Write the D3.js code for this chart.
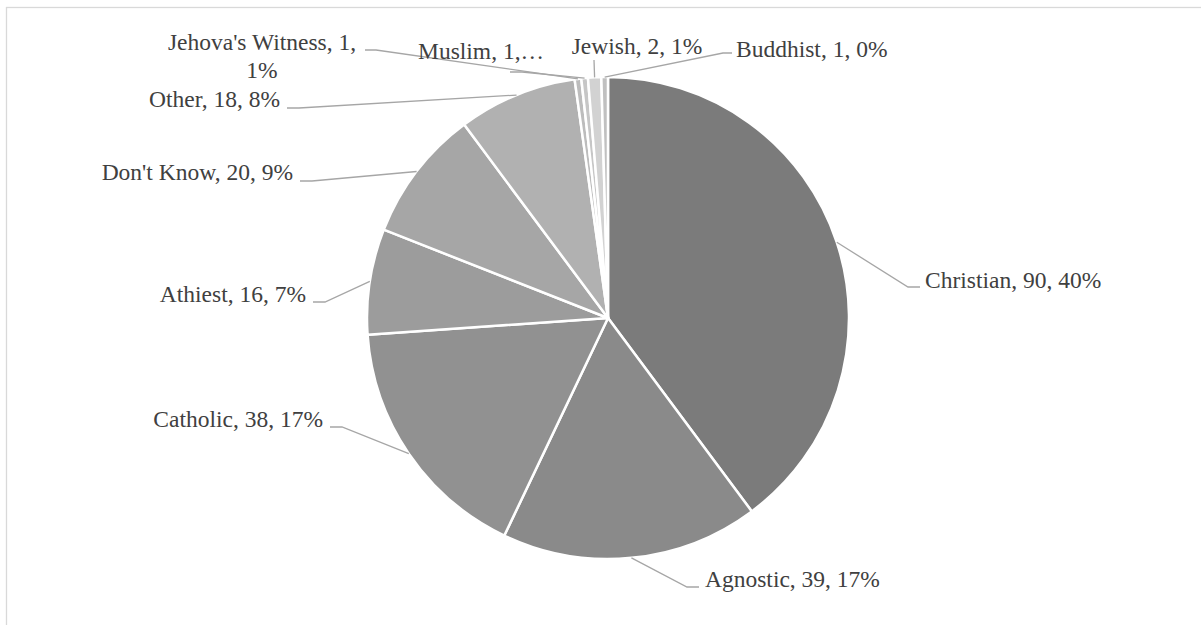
<!DOCTYPE html>
<html>
<head>
<meta charset="utf-8">
<script src="https://cdn.jsdelivr.net/npm/d3@7/dist/d3.min.js"></script>
<style>
  html, body { margin: 0; padding: 0; background: #ffffff; }
  svg { display: block; }
  text.lbl { font-family: "Liberation Serif", "Times New Roman", "DejaVu Serif", serif; }
</style>
</head>
<body>
<svg id="chart" width="1201" height="625"></svg>
<script>
// ---- Data ----
const categories = ["Christian", "Agnostic", "Catholic", "Athiest", "Don't Know", "Other",
                    "Jehova's Witness", "Muslim", "Jewish", "Buddhist"];
const values = [90, 39, 38, 16, 20, 18, 1, 1, 2, 1];
const labelTexts = [
  ["Christian, 90, 40%"],
  ["Agnostic, 39, 17%"],
  ["Catholic, 38, 17%"],
  ["Athiest, 16, 7%"],
  ["Don't Know, 20, 9%"],
  ["Other, 18, 8%"],
  ["Jehova's Witness, 1,", "1%"],
  ["Muslim, 1,\u2026"],
  ["Jewish, 2, 1%"],
  ["Buddhist, 1, 0%"]
];

// ---- Styles / layout ----
const sliceColors = ["#7b7b7b", "#8a8a8a", "#919191", "#9c9c9c", "#a6a6a6", "#b1b1b1",
                     "#bcbcbc", "#c6c6c6", "#d2d2d2", "#c0c0c0"];
const cx = 608, cy = 318, radius = 241;
// label anchor point (x, baseline y), text-anchor, and leader path points (from text side to pie)
const labelLayout = [
  {x: 925, y: 288, anchor: "start",  leader: [[920, 287], [908, 287]]},
  {x: 705, y: 587, anchor: "start",  leader: [[699, 587], [687, 587]]},
  {x: 323, y: 427, anchor: "end",    leader: [[330, 427], [342, 427]]},
  {x: 306, y: 302, anchor: "end",    leader: [[313, 302], [325, 302]]},
  {x: 293, y: 180, anchor: "end",    leader: [[300, 181], [312, 181]]},
  {x: 280, y: 107, anchor: "end",    leader: [[287, 108], [299, 108]]},
  {x: 262, y: 50,  anchor: "middle", leader: [[365, 50], [376, 50]]},
  {x: 418, y: 59,  anchor: "start",  leader: [[510, 72], [522, 72]]},
  {x: 637, y: 54,  anchor: "middle", leader: [[594, 60]]},
  {x: 736, y: 57,  anchor: "start",  leader: [[732, 53], [723, 53]]}
];

const svg = d3.select("#chart");

// chart border
svg.append("rect")
  .attr("x", 6.5).attr("y", 7.5)
  .attr("width", 1300).attr("height", 700)
  .attr("fill", "none")
  .attr("stroke", "#d9d9d9")
  .attr("stroke-width", 1.3);

const pie = d3.pie().sort(null).value(d => d)
  .startAngle(0).endAngle(2 * Math.PI);
const arcs = pie(values);

const arc = d3.arc().innerRadius(0).outerRadius(radius);
const edgeArc = d3.arc().innerRadius(radius).outerRadius(radius);

const g = svg.append("g").attr("transform", `translate(${cx},${cy})`);

g.selectAll("path.slice")
  .data(arcs)
  .join("path")
  .attr("class", "slice")
  .attr("d", arc)
  .attr("fill", (d, i) => sliceColors[i])
  .attr("stroke", "#ffffff")
  .attr("stroke-width", 2.5)
  .attr("stroke-linejoin", "round");

// leader lines
const line = d3.line();
svg.selectAll("path.leader")
  .data(arcs)
  .join("path")
  .attr("class", "leader")
  .attr("d", (d, i) => {
    const c = edgeArc.centroid(d);
    const pts = labelLayout[i].leader.concat([[cx + c[0], cy + c[1]]]);
    return line(pts);
  })
  .attr("fill", "none")
  .attr("stroke", "#a6a6a6")
  .attr("stroke-width", 1.3);

// labels
const labels = svg.selectAll("text.lbl")
  .data(categories)
  .join("text")
  .attr("class", "lbl")
  .attr("x", (d, i) => labelLayout[i].x)
  .attr("y", (d, i) => labelLayout[i].y)
  .attr("text-anchor", (d, i) => labelLayout[i].anchor)
  .attr("font-size", "23.5px")
  .attr("fill", "#404040");

labels.each(function(d, i) {
  const t = d3.select(this);
  labelTexts[i].forEach((s, j) => {
    t.append("tspan")
      .attr("x", labelLayout[i].x)
      .attr("dy", j === 0 ? 0 : 28)
      .text(s);
  });
});
</script>
</body>
</html>
